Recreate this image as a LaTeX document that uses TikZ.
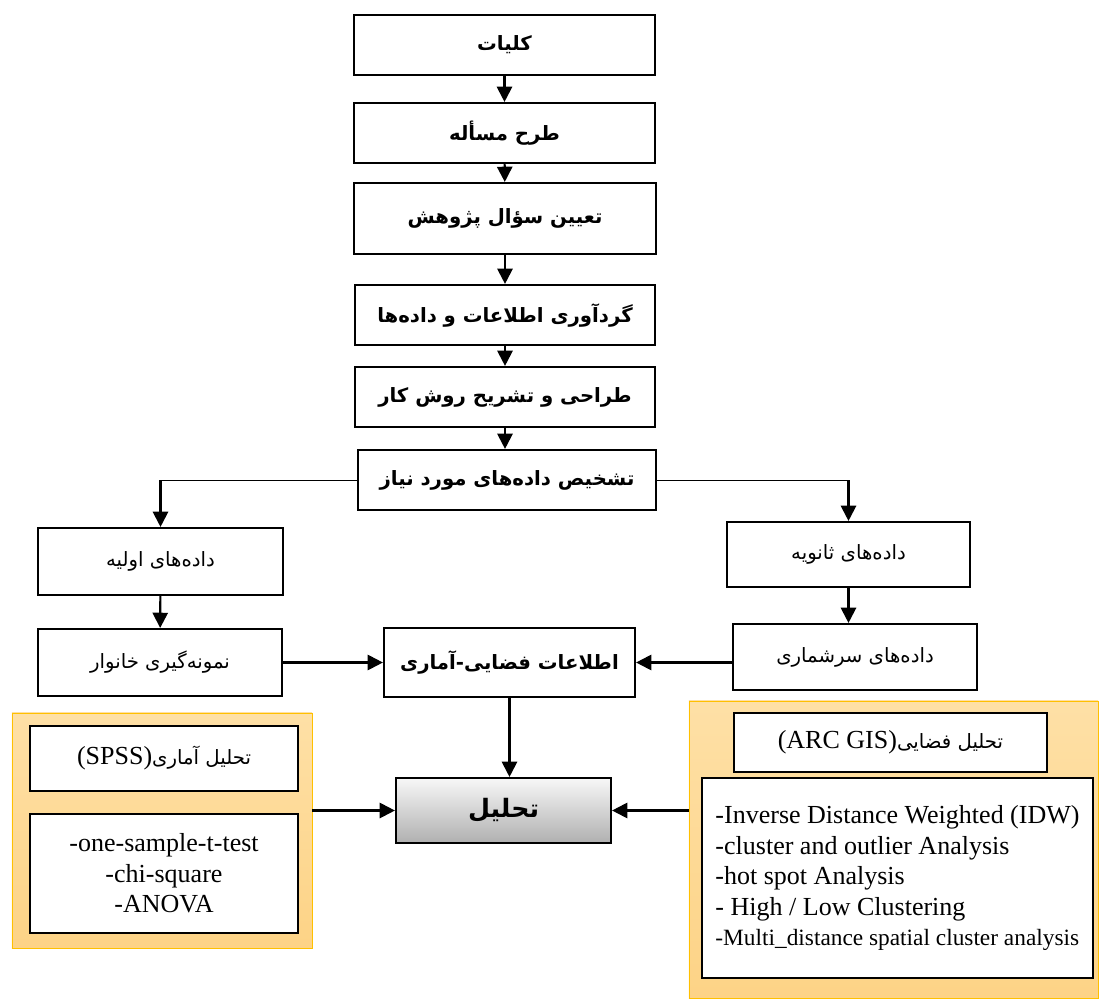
\documentclass[tikz,border=0pt]{standalone}
\usepackage{fontspec}
\setmainfont{Liberation Serif}
\newfontfamily\farsi[Script=Arabic]{DejaVu Sans}
\TeXXeTstate=1
\usepackage{tikz}
\usetikzlibrary{calc,shapes,positioning}
\usetikzlibrary{arrows.meta}
\tikzset{>={Triangle[width=3.8mm,length=3.8mm]}}
\newcommand{\prs}[1]{{\farsi\beginR #1\endR}}

\begin{document}
\begin{tikzpicture}[x=0.025cm,y=-0.025cm]
      \useasboundingbox (0,0) rectangle (1099,999);
      \begin{scope}
        \tikzstyle{bnode} = [line width=1.5pt, draw=black, fill=white, rectangle, inner sep = 2pt, align=center, font=\farsi\bfseries\fontsize{14}{17}\selectfont]
        \tikzstyle{rnode} = [line width=1.5pt, draw=black, fill=white, rectangle, inner sep = 2pt, align=center, font=\farsi\fontsize{14}{17}\selectfont]
        \tikzstyle{tnode} = [line width=1.5pt, draw=black, fill=white, rectangle, inner sep = 2pt, font=\fontsize{18.5}{21.7}\selectfont]
        \tikzstyle{pnode} = [draw={rgb,255:red,255;green,192;blue,0}, line width=0.6pt, rectangle, top color={rgb,255:red,254;green,224;blue,166}, bottom color={rgb,255:red,253;green,211;blue,134}]

        % main column
        \node[bnode, minimum width=7.525cm, minimum height=1.5cm] (kol) at (504.5, 45) {\prs{کلیات}};
        \node[bnode, minimum width=7.525cm, minimum height=1.5cm] (tarh) at (504.5, 133) {\prs{طرح مسأله}};
        \node[bnode, minimum width=7.55cm, minimum height=1.775cm] (tayin) at (505, 218.5) {\prs{تعیین سؤال پژوهش}};
        \node[bnode, minimum width=7.5cm, minimum height=1.5cm] (gerd) at (505, 315) {\prs{گردآوری اطلاعات و داده^^^^200cها}};
        \node[bnode, minimum width=7.5cm, minimum height=1.5cm] (tarahi) at (505, 397) {\prs{طراحی و تشریح روش کار}};
        \node[bnode, minimum width=7.45cm, minimum height=1.5cm] (tash) at (507, 480) {\prs{تشخیص داده^^^^200cهای مورد نیاز}};

        % two branches
        \node[rnode, minimum width=6.125cm, minimum height=1.675cm] (avalie) at (160.5, 561.5) {\prs{داده^^^^200cهای اولیه}};
        \node[rnode, minimum width=6.1cm, minimum height=1.675cm] (nemune) at (160, 662.5) {\prs{نمونه^^^^200cگیری خانوار}};
        \node[rnode, minimum width=6.075cm, minimum height=1.625cm] (sanavie) at (848.5, 554.5) {\prs{داده^^^^200cهای ثانویه}};
        \node[rnode, minimum width=6.1cm, minimum height=1.65cm] (sarshomari) at (855, 657) {\prs{داده^^^^200cهای سرشماری}};
        \node[bnode, minimum width=6.275cm, minimum height=1.725cm] (etelaat) at (509.5, 662.5) {\prs{اطلاعات فضایی-آماری}};
        \node[bnode, minimum width=5.375cm, minimum height=1.625cm, top color=gray!6, bottom color=gray!62, font=\farsi\bfseries\fontsize{18}{22}\selectfont] (tahlil) at (503.5, 810.5) {\prs{تحلیل}};

        % side panels
        \node[pnode, minimum width=7.5cm, minimum height=5.875cm] (lpanel) at (162, 830.5) {};
        \node[tnode, minimum width=6.7cm, minimum height=1.625cm] (spss) at (164, 758.5) {(SPSS)\prs{\fontsize{14}{17}\selectfont تحلیل آماری}};
        \node[tnode, minimum width=6.7cm, minimum height=2.975cm, align=center] (lmeth) at (164, 873.5) {-one-sample-t-test\\-chi-square\\-ANOVA};

        \node[pnode, minimum width=10.225cm, minimum height=7.425cm] (rpanel) at (893.5, 849.5) {};
        \node[tnode, minimum width=7.825cm, minimum height=1.475cm] (arc) at (890.5, 742.5) {(ARC GIS)\prs{\fontsize{14}{17}\selectfont تحلیل فضایی}};
        \node[tnode, minimum width=9.775cm, minimum height=5cm, align=left] (rmeth) at (897.5, 878) {-Inverse Distance Weighted (IDW)\\-cluster and outlier Analysis\\-hot spot Analysis\\- High / Low Clustering\\{\fontsize{16.6}{21.7}\selectfont -Multi\_distance spatial cluster analysis}};

        \coordinate (cl) at (avalie |- tash);
        \coordinate (cr) at (sanavie |- tash);

        \path[->, line width=1.5pt]
        (kol) edge node {} (tarh)
        (tarh) edge node {} (tayin)
        (tayin) edge node {} (gerd)
        (gerd) edge node {} (tarahi)
        (tarahi) edge node {} (tarahi |- tash.north)
        (cl) edge node {} (avalie)
        (cr) edge node {} (sanavie)
        (avalie) edge node {} (nemune)
        (sanavie) edge node {} (sanavie |- sarshomari.north)
        (nemune) edge node {} (etelaat)
        (sarshomari.west |- etelaat) edge node {} (etelaat)
        (etelaat) edge node {} (etelaat |- tahlil.north)
        (lpanel.east |- tahlil) edge node {} (tahlil)
        (rpanel.west |- tahlil) edge node {} (tahlil)
        ;
        \path[-, line width=0.6pt]
        (tash) edge node {} (cl)
        (tash) edge node {} (cr)
        ;
      \end{scope}
\end{tikzpicture}
\end{document}
